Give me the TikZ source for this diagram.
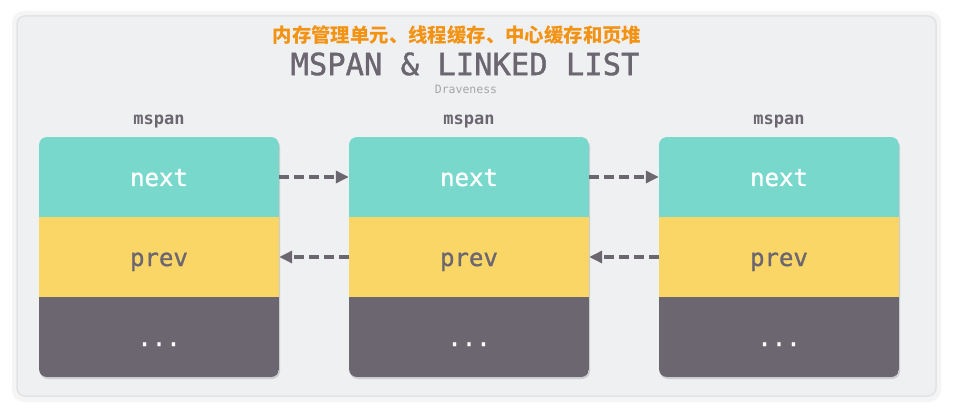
\documentclass[tikz,border=0pt]{standalone}
\usepackage{fontspec}
\setmonofont{DejaVu Sans Mono}
\newfontfamily\heavymono{DejaVu Sans Mono}[FakeBold=1.2]
\newfontfamily\cjk{Noto Sans CJK SC}
\usetikzlibrary{arrows.meta}
\definecolor{nextc}{HTML}{78D8CC}
\definecolor{prevc}{HTML}{FAD667}
\definecolor{restc}{HTML}{6B6670}
\definecolor{panelc}{HTML}{EFF0F2}
\definecolor{edgec}{HTML}{E2E3E5}
\definecolor{titlec}{HTML}{F39314}
\definecolor{authc}{HTML}{A6A6AA}
\tikzset{
  cell/.style={minimum width=240pt, minimum height=80pt, inner sep=0pt,
    text height=18pt, text depth=0pt,
    font=\heavymono\fontsize{24}{24}\selectfont},
  nextcell/.style={cell, fill=nextc, text=white},
  prevcell/.style={cell, fill=prevc, text=restc},
  restcell/.style={cell, fill=restc, text=white},
  spanname/.style={font=\ttfamily\bfseries\fontsize{17}{17}\selectfont, text=restc, inner sep=0pt},
  shade box/.style={fill=black, opacity=.14, rounded corners=8pt},
  link/.style={draw=restc, line width=4.5pt, dash pattern=on 10pt off 5pt,
    -{Triangle[length=13pt,width=12pt]}}
}
\begin{document}
\begin{tikzpicture}[x=1pt,y=-1pt]
\useasboundingbox (0,0) rectangle (953,414);
\fill[white] (0,0) rectangle (953,414);
\fill[edgec!35, rounded corners=12pt] (12,11) rectangle (941,402);
\filldraw[fill=panelc, draw=edgec, line width=1.5pt, rounded corners=8pt] (17,16) rectangle (936,396);
% title
\node[inner sep=0pt, text=titlec, font=\cjk\bfseries\fontsize{19.4}{19.4}\selectfont] (zh) at (457,35) {内存管理单元、线程缓存、中心缓存和页堆};
\node[inner sep=0pt, text=restc, font=\heavymono\fontsize{30.5}{30.5}\selectfont] (title) at (465,64) {MSPAN \& LINKED LIST};
\node[inner sep=0pt, text=authc, font=\ttfamily\fontsize{11.5}{11.5}\selectfont] (auth) at (466,89.5) {Draveness};
% first mspan
\node[spanname] (name1) at (159,122) {mspan};
\fill[shade box] (40,139) rectangle (280,379);
\begin{scope}
\clip[rounded corners=8pt] (39,137) rectangle (279,377);
\node[nextcell] (next1) at (159,177) {next};
\node[prevcell] (prev1) at (159,257) {prev};
\node[restcell] (rest1) at (159,337) {...};
\end{scope}
% second mspan
\node[spanname] (name2) at (469,122) {mspan};
\fill[shade box] (350,139) rectangle (590,379);
\begin{scope}
\clip[rounded corners=8pt] (349,137) rectangle (589,377);
\node[nextcell] (next2) at (469,177) {next};
\node[prevcell] (prev2) at (469,257) {prev};
\node[restcell] (rest2) at (469,337) {...};
\end{scope}
% third mspan
\node[spanname] (name3) at (779,122) {mspan};
\fill[shade box] (660,139) rectangle (900,379);
\begin{scope}
\clip[rounded corners=8pt] (659,137) rectangle (899,377);
\node[nextcell] (next3) at (779,177) {next};
\node[prevcell] (prev3) at (779,257) {prev};
\node[restcell] (rest3) at (779,337) {...};
\end{scope}
% links
\draw[link] (next1.east) -- (next2.west);
\draw[link] (next2.east) -- (next3.west);
\draw[link] (prev2.west) -- (prev1.east);
\draw[link] (prev3.west) -- (prev2.east);
\end{tikzpicture}
\end{document}
